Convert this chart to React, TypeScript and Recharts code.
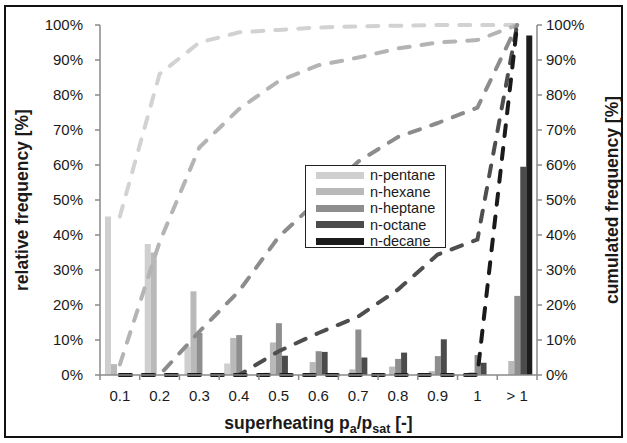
import React from 'react';
import { ComposedChart, Bar, Line, XAxis, YAxis, Legend, Label } from 'recharts';

const categories = ['0.1', '0.2', '0.3', '0.4', '0.5', '0.6', '0.7', '0.8', '0.9', '1', '> 1'];

// relative frequency [%] (bars, left axis)
const pentane = [45.3, 37.4, 8.1, 3.3, 0.7, 0, 0, 0, 0, 0, 0];
const hexane = [3.1, 35.0, 23.9, 10.6, 9.3, 3.7, 1.6, 2.4, 1.1, 0.8, 4.0];
const heptane = [0, 0, 12.0, 11.4, 14.8, 6.8, 13.0, 4.6, 5.4, 5.7, 22.6];
const octane = [0, 0, 0, 0, 5.5, 6.6, 5.0, 6.4, 10.2, 3.5, 59.5];
const decane = [0, 0, 0, 0, 0, 0, 0, 0, 0, 0, 97.0];

// cumulated frequency [%] (dashed lines, right axis)
const pentaneCum = [45.3, 86, 95, 97.9, 98.6, 99.3, 99.6, 99.8, 100, 100, 100];
const hexaneCum = [3, 38, 65, 76, 84, 88.5, 90.7, 93.3, 95, 95.7, 100];
const heptaneCum = [0, 0, 12.4, 24, 39.5, 50, 61, 68, 72, 76.4, 100];
const octaneCum = [0, 0, 0, 0, 6.8, 12, 16.7, 24.4, 34.4, 38.7, 100];
const decaneCum = [0, 0, 0, 0, 0, 0, 0, 0, 0, 0, 100];

const percentTicks = [0, 10, 20, 30, 40, 50, 60, 70, 80, 90, 100];

const seriesNames = ['n-pentane', 'n-hexane', 'n-heptane', 'n-octane', 'n-decane'];
const barColors = ['#cfcfcf', '#b9b9b9', '#8e8e8e', '#4b4b4b', '#1c1c1c'];
const lineColors = ['#d2d2d2', '#b4b4b4', '#8c8c8c', '#4e4e4e', '#1a1a1a'];
const barKeys = ['pentane', 'hexane', 'heptane', 'octane', 'decane'];
const lineKeys = ['pentaneCum', 'hexaneCum', 'heptaneCum', 'octaneCum', 'decaneCum'];

const data = categories.map((cat, i) => ({
  cat,
  pentane: pentane[i],
  hexane: hexane[i],
  heptane: heptane[i],
  octane: octane[i],
  decane: decane[i],
  pentaneCum: pentaneCum[i],
  hexaneCum: hexaneCum[i],
  heptaneCum: heptaneCum[i],
  octaneCum: octaneCum[i],
  decaneCum: decaneCum[i],
}));

const FONT = '"Liberation Sans", Arial, sans-serif';
const AXIS = '#8a8a8a';
const TICK = 5;

// category tick: label at band centre, tick marks at band boundaries (Excel style)
const CatTick = (props: any) => {
  const { x, y, payload, index } = props;
  const half = payload && payload.offset ? payload.offset : 0;
  const last = index === categories.length - 1;
  return (
    <g>
      <line x1={x - half} x2={x - half} y1={y - TICK} y2={y} stroke={AXIS} strokeWidth={1.5} />
      {last && <line x1={x + half} x2={x + half} y1={y - TICK} y2={y} stroke={AXIS} strokeWidth={1.5} />}
      <text x={x} y={y + 10} dy="0.71em" textAnchor="middle" fontFamily={FONT} fontSize={15} fill="#1a1a1a">
        {payload.value}
      </text>
    </g>
  );
};

const renderLegend = () => (
  <div
    style={{
      width: 141,
      height: 83,
      boxSizing: 'border-box',
      border: '1px solid #222',
      background: '#fff',
      paddingTop: 1,
      fontFamily: FONT,
    }}
  >
    {seriesNames.map((name, i) => (
      <div key={name} style={{ display: 'flex', alignItems: 'center', height: 16.5 }}>
        <div style={{ width: 48, height: 7, background: barColors[i], marginLeft: 10 }} />
        <span style={{ marginLeft: 6, fontSize: 14.5, color: '#1a1a1a', lineHeight: '16px' }}>{name}</span>
      </div>
    ))}
  </div>
);

const leftTitle = (props: any) => {
  const vb = props.viewBox;
  const x = vb.x + 22;
  const y = vb.y + vb.height / 2;
  return (
    <text x={x} y={y} transform={`rotate(-90, ${x}, ${y})`} textAnchor="middle" dominantBaseline="central"
      fontFamily={FONT} fontSize={17.5} fontWeight="bold" fill="#1a1a1a">
      relative frequency [%]
    </text>
  );
};

const rightTitle = (props: any) => {
  const vb = props.viewBox;
  const x = vb.x + 75;
  const y = vb.y + vb.height / 2;
  return (
    <text x={x} y={y} transform={`rotate(-90, ${x}, ${y})`} textAnchor="middle" dominantBaseline="central"
      fontFamily={FONT} fontSize={17.5} fontWeight="bold" fill="#1a1a1a">
      cumulated frequency [%]
    </text>
  );
};

const bottomTitle = (props: any) => {
  const vb = props.viewBox;
  const x = vb.x + vb.width / 2;
  const y = vb.y + 54;
  return (
    <text x={x} y={y} textAnchor="middle" fontFamily={FONT} fontSize={17.5} fontWeight="bold" fill="#1a1a1a">
      <tspan>superheating p</tspan>
      <tspan dy={4} fontSize={12.5}>a</tspan>
      <tspan dy={-4}>/p</tspan>
      <tspan dy={4} fontSize={12.5}>sat</tspan>
      <tspan dy={-4}> [-]</tspan>
    </text>
  );
};

export default function App() {
  return (
    <div style={{ position: 'absolute', left: 0, top: 0, width: 627, height: 443, background: '#fff', fontFamily: FONT }}>
      <ComposedChart
        width={627}
        height={443}
        data={data}
        margin={{ top: 25, right: 0, bottom: 38, left: 0 }}
        barGap={0}
        barCategoryGap={0}
      >
        <XAxis
          xAxisId="cat"
          dataKey="cat"
          interval={0}
          height={30}
          tickLine={false}
          axisLine={{ stroke: AXIS, strokeWidth: 1.5 }}
          tickSize={TICK}
          tickMargin={0}
          tick={<CatTick />}
        >
          <Label content={bottomTitle} />
        </XAxis>
        <YAxis
          yAxisId="left"
          width={100}
          domain={[0, 100]}
          ticks={percentTicks}
          interval={0}
          tickFormatter={(v: number) => `${v}%`}
          axisLine={{ stroke: AXIS, strokeWidth: 1.5 }}
          tickLine={{ stroke: AXIS, strokeWidth: 1.5 }}
          tickSize={TICK}
          tickMargin={12}
          tick={{ fontSize: 15, fill: '#1a1a1a', fontFamily: FONT }}
        >
          <Label content={leftTitle} />
        </YAxis>
        <YAxis
          yAxisId="right"
          orientation="right"
          width={90}
          domain={[0, 100]}
          ticks={percentTicks}
          interval={0}
          tickFormatter={(v: number) => `${v}%`}
          axisLine={{ stroke: AXIS, strokeWidth: 1.5 }}
          tickLine={{ stroke: AXIS, strokeWidth: 1.5 }}
          tickSize={TICK}
          tickMargin={4}
          tick={{ fontSize: 15, fill: '#1a1a1a', fontFamily: FONT }}
        >
          <Label content={rightTitle} />
        </YAxis>
        {barKeys.map((k, i) => (
          <Bar
            key={k}
            xAxisId="cat"
            yAxisId="left"
            dataKey={k}
            name={seriesNames[i]}
            fill={barColors[i]}
            barSize={6}
            isAnimationActive={false}
          />
        ))}
        {lineKeys.map((k, i) => (
          <Line
            key={k}
            xAxisId="cat"
            yAxisId="right"
            type="linear"
            dataKey={k}
            stroke={lineColors[i]}
            strokeWidth={4}
            strokeDasharray="11 12"
            strokeLinecap="round"
            dot={false}
            activeDot={false}
            legendType="none"
            isAnimationActive={false}
          />
        ))}
        <Legend
          layout="vertical"
          align="center"
          verticalAlign="middle"
          content={renderLegend}
          wrapperStyle={{ left: 305, top: 165, width: 141, height: 83 }}
        />
      </ComposedChart>
      <div
        style={{
          position: 'absolute',
          left: 4,
          top: 5,
          width: 619,
          height: 433,
          boxSizing: 'border-box',
          border: '2px solid #111',
          pointerEvents: 'none',
        }}
      />
    </div>
  );
}
